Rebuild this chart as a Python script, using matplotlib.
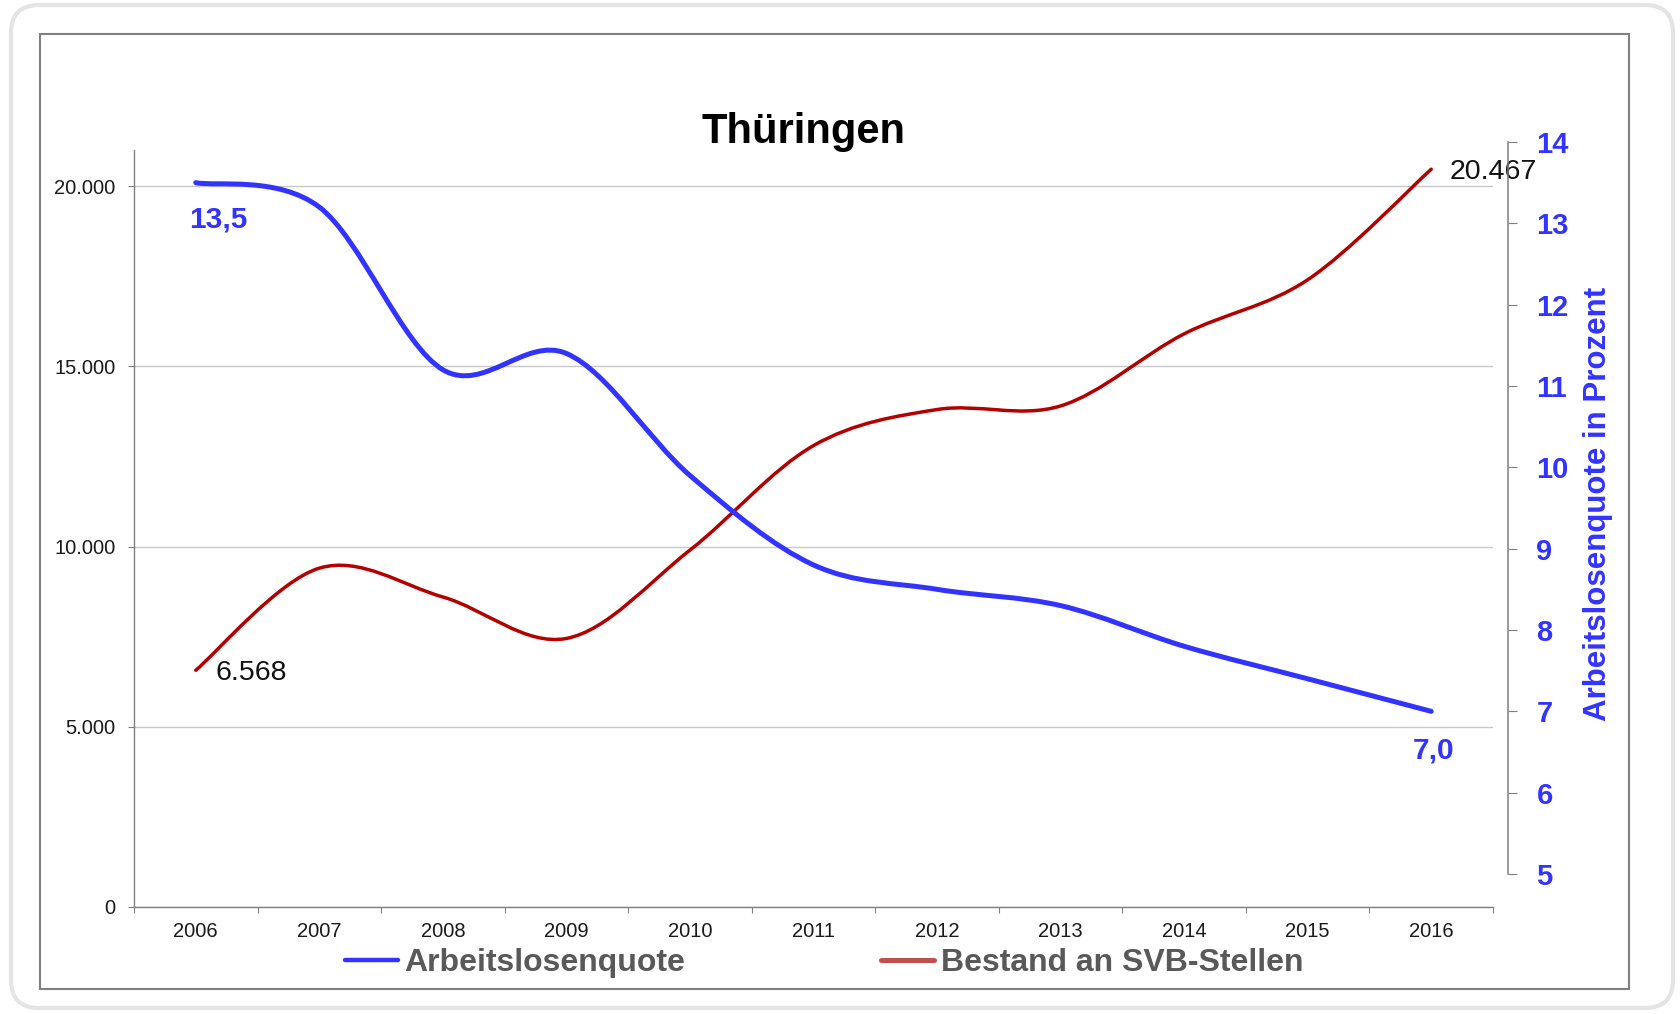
import matplotlib
matplotlib.use("Agg")
import matplotlib.pyplot as plt
from matplotlib.path import Path
from matplotlib.patches import PathPatch, FancyBboxPatch, Rectangle
from matplotlib.lines import Line2D
from matplotlib.ticker import FuncFormatter, FixedLocator
from matplotlib.transforms import IdentityTransform

plt.rcParams["font.family"] = ["Liberation Sans", "DejaVu Sans"]

years = ["2006", "2007", "2008", "2009", "2010", "2011", "2012", "2013", "2014", "2015", "2016"]
quote = [13.5, 13.2, 11.2, 11.4, 9.9, 8.8, 8.5, 8.3, 7.8, 7.4, 7.0]
stellen = [6568, 9400, 8600, 7450, 9900, 12800, 13800, 13900, 15900, 17400, 20467]

BLUE = "#3333ff"
RED = "#b30000"
GRAY = "#808080"

W, H = 1681, 1014


def smooth_path(xs, ys):
    # smoothed line like in Excel: Bezier segments with Catmull-Rom control points
    pts = list(zip(xs, ys))
    n = len(pts)
    verts = [pts[0]]
    codes = [Path.MOVETO]
    for i in range(n - 1):
        p0 = pts[max(i - 1, 0)]
        p1 = pts[i]
        p2 = pts[i + 1]
        p3 = pts[min(i + 2, n - 1)]
        c1 = (p1[0] + (p2[0] - p0[0]) / 6, p1[1] + (p2[1] - p0[1]) / 6)
        c2 = (p2[0] - (p3[0] - p1[0]) / 6, p2[1] - (p3[1] - p1[1]) / 6)
        verts += [c1, c2, p2]
        codes += [Path.CURVE4] * 3
    return Path(verts, codes)


fig = plt.figure(figsize=(W / 100, H / 100), dpi=100)

# outer rounded border and inner frame
fig.patches.append(FancyBboxPatch((11, 6), 1662, 1003, boxstyle="round,pad=0,rounding_size=28",
                                  transform=IdentityTransform(), fill=False,
                                  edgecolor="#e4e4e4", linewidth=3))
fig.patches.append(Rectangle((40, H - 989), 1589, 955, transform=IdentityTransform(),
                             fill=False, edgecolor=GRAY, linewidth=1.5))

x = list(range(len(years)))

# left axis: SVB-Stellen
ax = fig.add_axes([134 / W, (H - 907) / H, (1493 - 134) / W, (907 - 150) / H])
ax.set_facecolor("none")
ax.set_xlim(-0.5, len(years) - 0.5)
ax.set_ylim(0, 21000)
ax.set_yticks([0, 5000, 10000, 15000, 20000])
ax.yaxis.set_major_formatter(FuncFormatter(lambda v, p: f"{int(v):,}".replace(",", ".")))
ax.grid(axis="y", color="#c8c8c8", linewidth=1)
ax.set_axisbelow(True)
ax.xaxis.set_major_locator(FixedLocator([i - 0.5 for i in range(len(years) + 1)]))
ax.xaxis.set_minor_locator(FixedLocator(x))
ax.set_xticklabels([])
ax.set_xticklabels(years, minor=True)
ax.tick_params(axis="x", which="major", length=4.3, color=GRAY, direction="out")
ax.tick_params(axis="x", which="minor", length=0, pad=11, labelsize=14.5, labelcolor="#1a1a1a")
ax.tick_params(axis="y", length=4.3, color=GRAY, pad=9, labelsize=14.5, labelcolor="#1a1a1a")
for s in ["top", "right"]:
    ax.spines[s].set_visible(False)
for s in ["left", "bottom"]:
    ax.spines[s].set_color(GRAY)
    ax.spines[s].set_linewidth(1)

ax.add_patch(PathPatch(smooth_path(x, stellen), fill=False, edgecolor=RED, linewidth=2.5,
                       capstyle="round", zorder=3))
ax.annotate("6.568", (x[0], stellen[0]), xytext=(14.4, -7.2), textcoords="offset points",
            ha="left", va="baseline", fontsize=20.5, color="#111111")
ax.annotate("20.467", (x[-1], stellen[-1]), xytext=(13, -7.2), textcoords="offset points",
            ha="left", va="baseline", fontsize=20.5, color="#111111", annotation_clip=False)

# right axis: Arbeitslosenquote
ax2 = fig.add_axes([134 / W, (H - 874) / H, (1493 - 134) / W, (874 - 142) / H])
ax2.set_facecolor("none")
ax2.set_xlim(-0.5, len(years) - 0.5)
ax2.set_ylim(5, 14)
ax2.set_xticks([])
ax2.yaxis.tick_right()
ax2.set_yticks(range(5, 15))
for s in ["top", "left", "bottom"]:
    ax2.spines[s].set_visible(False)
ax2.spines["right"].set_position(("outward", 10.8))
ax2.spines["right"].set_color(GRAY)
ax2.spines["right"].set_linewidth(1.1)
ax2.tick_params(axis="y", length=6.5, color=GRAY, pad=14, labelsize=21, labelcolor=BLUE)
for lbl in ax2.get_yticklabels():
    lbl.set_fontweight("bold")

ax2.add_patch(PathPatch(smooth_path(x, quote), fill=False, edgecolor=BLUE, linewidth=3.6,
                        capstyle="round", zorder=4))
ax2.annotate("13,5", (x[0], quote[0]), xytext=(16, -32), textcoords="offset points",
             ha="center", va="baseline", fontsize=21.5, fontweight="bold", color=BLUE)
ax2.annotate("7,0", (x[-1], quote[-1]), xytext=(2, -34), textcoords="offset points",
             ha="center", va="baseline", fontsize=21.5, fontweight="bold", color=BLUE)

fig.text(803.5 / W, 1 - 143 / H, "Thüringen", ha="center", va="baseline",
         fontsize=30, fontweight="bold", color="black")
fig.text(1598 / W, 1 - 504 / H, "Arbeitslosenquote in Prozent", rotation=90,
         ha="center", va="center", fontsize=22.5, fontweight="bold", color=BLUE)

handles = [Line2D([], [], color=BLUE, linewidth=3.2, solid_capstyle="round"),
           Line2D([], [], color="#c0504d", linewidth=3.6, solid_capstyle="round")]
fig.legend(handles, ["Arbeitslosenquote", "Bestand an SVB-Stellen"], loc="center",
           bbox_to_anchor=(824 / W, 1 - 963 / H), ncol=2, frameon=False,
           prop={"weight": "bold", "size": 23}, labelcolor="#595959",
           handlelength=1.65, handletextpad=0.2, columnspacing=6.15)

fig.savefig("out.png", dpi=100, facecolor="white")
